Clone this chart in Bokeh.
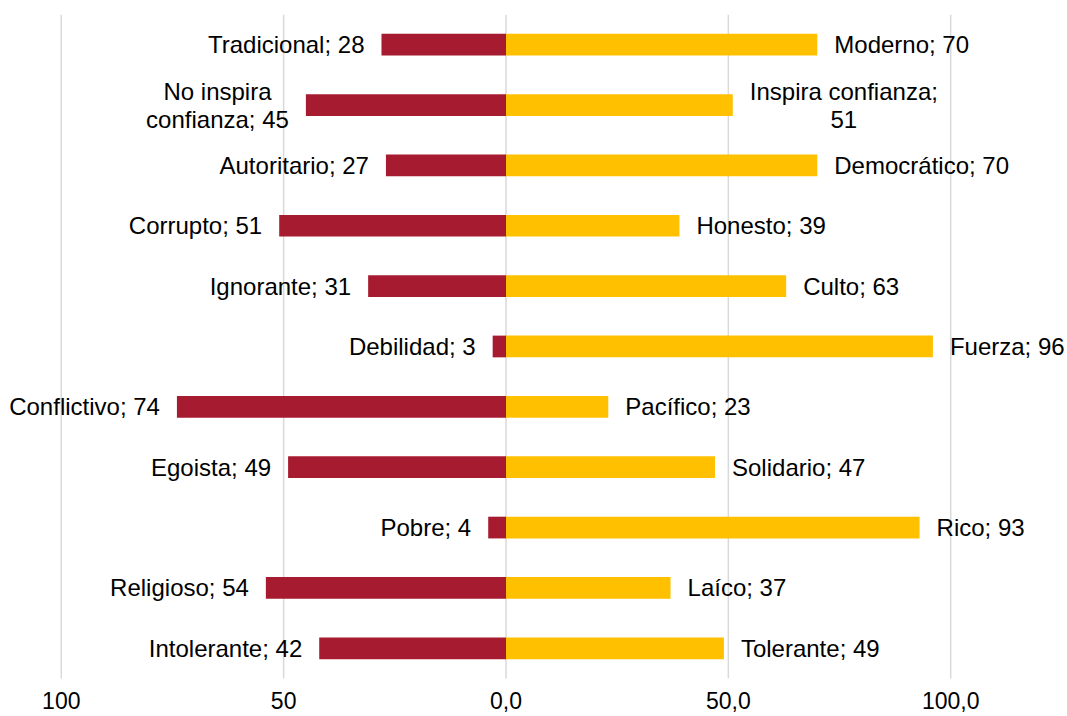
from bokeh.plotting import figure
from bokeh.models import Range1d, ColumnDataSource
from bokeh.core.properties import value
from bokeh.embed import file_html
from bokeh.resources import INLINE

neg_labels = ["Tradicional", "No inspira confianza", "Autoritario", "Corrupto", "Ignorante",
              "Debilidad", "Conflictivo", "Egoista", "Pobre", "Religioso", "Intolerante"]
neg_values = [28, 45, 27, 51, 31, 3, 74, 49, 4, 54, 42]
pos_labels = ["Moderno", "Inspira confianza", "Democrático", "Honesto", "Culto",
              "Fuerza", "Pacífico", "Solidario", "Rico", "Laíco", "Tolerante"]
pos_values = [70, 51, 70, 39, 63, 96, 23, 47, 93, 37, 49]
tick_values = [-100, -50, 0, 50, 100]
tick_labels = ["100", "50", "0,0", "50,0", "100,0"]

RED = "#A61B2F"
GOLD = "#FFC000"
FONT = "Liberation Sans"
FS = 24
GAP = 17
PX = 4.447      # pixels per x unit
ROW = 60.36     # pixels per row
LEFT = 8
TOP = 14
ZERO = 505.5
FRAME_W = 1059
FRAME_H = 702

# Arial / Liberation Sans advance widths (per 1000 em)
W = {' ': 278, ';': 278, ',': 278, 'I': 278, 'N': 722}
for ch in "0123456789aeodnpuq":
    W[ch] = 556
for ch in "csvzk":
    W[ch] = 500
for ch in "il":
    W[ch] = 222
for ch in "ft":
    W[ch] = 278
W['r'] = 333


def text_w(s):
    return sum(W.get(ch, 556) for ch in s) / 1000.0 * FS


n = len(neg_values)
rows = list(range(n))

p = figure(frame_width=FRAME_W, frame_height=FRAME_H, output_backend="svg", toolbar_location=None,
           x_range=Range1d(-(ZERO - LEFT) / PX, (LEFT + FRAME_W - ZERO) / PX),
           y_range=Range1d(-0.5 + FRAME_H / ROW, -0.5),
           x_axis_location=None, y_axis_location=None,
           min_border_left=LEFT, min_border_right=0, min_border_top=TOP, min_border_bottom=0)
p.outline_line_color = None
p.background_fill_color = "white"
p.border_fill_color = "white"
p.xgrid.visible = False
p.ygrid.visible = False

# vertical gridlines at the ticks, spanning the category rows
p.segment(x0=tick_values, y0=[-0.5] * len(tick_values), x1=tick_values,
          y1=[n - 0.5] * len(tick_values), line_color="#D9D9D9", line_width=1.5)

# tick labels
p.text(x=tick_values, y=[n - 0.5] * len(tick_values), text=tick_labels, y_offset=22,
       text_align="center", text_baseline="middle", text_font=value(FONT),
       text_font_size="23px", text_color="#000000")

src = ColumnDataSource(dict(y=rows, neg=[-v for v in neg_values], pos=pos_values))
p.hbar(y="y", left="neg", right=0, height=0.36, fill_color=RED, line_color=None, source=src)
p.hbar(y="y", left=0, right="pos", height=0.36, fill_color=GOLD, line_color=None, source=src)

# data labels
for i in rows:
    nl = f"{neg_labels[i]}; {neg_values[i]}"
    pl = f"{pos_labels[i]}; {pos_values[i]}"
    if i == 1:
        l1, l2 = "No inspira", f"confianza; {neg_values[i]}"
        wmax = max(text_w(l1), text_w(l2))
        for txt, dy in ((l1, -14), (l2, 14)):
            p.text(x=[-neg_values[i]], y=[i], text=[txt], x_offset=-GAP - wmax / 2, y_offset=dy,
                   text_align="center", text_baseline="middle", text_font=value(FONT),
                   text_font_size=f"{FS}px", text_color="#000000")
    else:
        p.text(x=[-neg_values[i]], y=[i], text=[nl], x_offset=-GAP,
               text_align="right", text_baseline="middle", text_font=value(FONT),
               text_font_size=f"{FS}px", text_color="#000000")
    if i == 1:
        l1, l2 = "Inspira confianza;", f"{pos_values[i]}"
        wmax = max(text_w(l1), text_w(l2))
        for txt, dy in ((l1, -14), (l2, 14)):
            p.text(x=[pos_values[i]], y=[i], text=[txt], x_offset=GAP + wmax / 2, y_offset=dy,
                   text_align="center", text_baseline="middle", text_font=value(FONT),
                   text_font_size=f"{FS}px", text_color="#000000")
    else:
        p.text(x=[pos_values[i]], y=[i], text=[pl], x_offset=GAP,
               text_align="left", text_baseline="middle", text_font=value(FONT),
               text_font_size=f"{FS}px", text_color="#000000")

open("out.html", "w").write(file_html(p, INLINE))
